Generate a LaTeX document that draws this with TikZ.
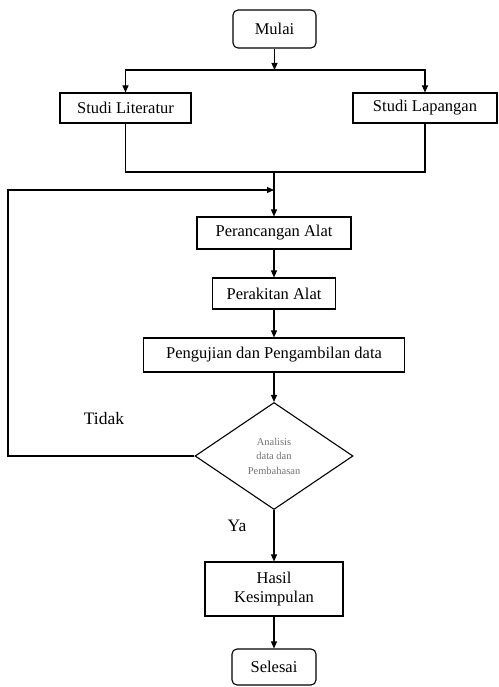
\documentclass[tikz,border=0pt]{standalone}
\usepackage{fontspec}
\setmainfont{Liberation Serif}
\usetikzlibrary{arrows.meta,shapes.geometric}
\begin{document}
\begin{tikzpicture}[x=1pt,y=-1pt,
  every node/.style={font=\fontsize{16.5}{19}\selectfont},
  box/.style={draw,line width=1.1pt,inner sep=0pt,align=center},
  term/.style={box,rounded corners=5pt},
  dec/.style={draw,line width=1.1pt,diamond,inner sep=0pt,align=center,
    font=\fontsize{10.5}{14.5}\selectfont,text=black!55},
  lbl/.style={font=\fontsize{17.5}{20}\selectfont},
  ln/.style={line width=1.1pt},
  arr/.style={ln,-{Triangle[width=6pt,length=7pt]}}]
\useasboundingbox (0,0) rectangle (498,687);
\node[term,minimum width=83pt,minimum height=38pt] (mulai) at (274.5,29) {Mulai};
\node[box,minimum width=131pt,minimum height=30pt] (lit) at (125.5,108) {Studi Literatur};
\node[box,minimum width=144pt,minimum height=30pt] (lap) at (425,108) {Studi Lapangan};
\node[box,minimum width=154pt,minimum height=32pt] (per) at (274,233) {Perancangan Alat};
\node[box,minimum width=123pt,minimum height=31pt] (rak) at (274,293.5) {Perakitan Alat};
\node[box,minimum width=261pt,minimum height=34pt] (uji) at (274,355) {Pengujian dan Pengambilan data};
\node[dec,minimum width=158pt,minimum height=107pt] (dia) at (274,456) {Analisis\\data dan\\Pembahasan};
\node[box,minimum width=138pt,minimum height=54pt] (hasil) at (274,589) {Hasil\\Kesimpulan};
\node[term,minimum width=84pt,minimum height=36pt] (sel) at (274,667) {Selesai};
\node[lbl] (tidak) at (104,419) {Tidak};
\node[lbl] (ya) at (237,526) {Ya};
\coordinate (split) at (274.5,70);
\coordinate (join) at (274,172);
\coordinate (loop) at (274,190);
\coordinate (lc) at (8,190);
\draw[arr] (mulai) -- (split);
\draw[ln] (lit.north |- split) -- (lap.north |- split);
\draw[arr] (split) -| (lit.north);
\draw[arr] (split) -| (lap.north);
\draw[ln] (lit.south) |- (join);
\draw[ln] (lap.south) |- (join);
\draw[arr] (join) -- (per.north);
\draw[arr] (dia.west) -| (lc) -- (loop);
\draw[arr] (per) -- (rak);
\draw[arr] (rak) -- (uji);
\draw[arr] (uji) -- (dia.north);
\draw[arr] (dia.south) -- (hasil);
\draw[arr] (hasil) -- (sel);
\end{tikzpicture}
\end{document}
